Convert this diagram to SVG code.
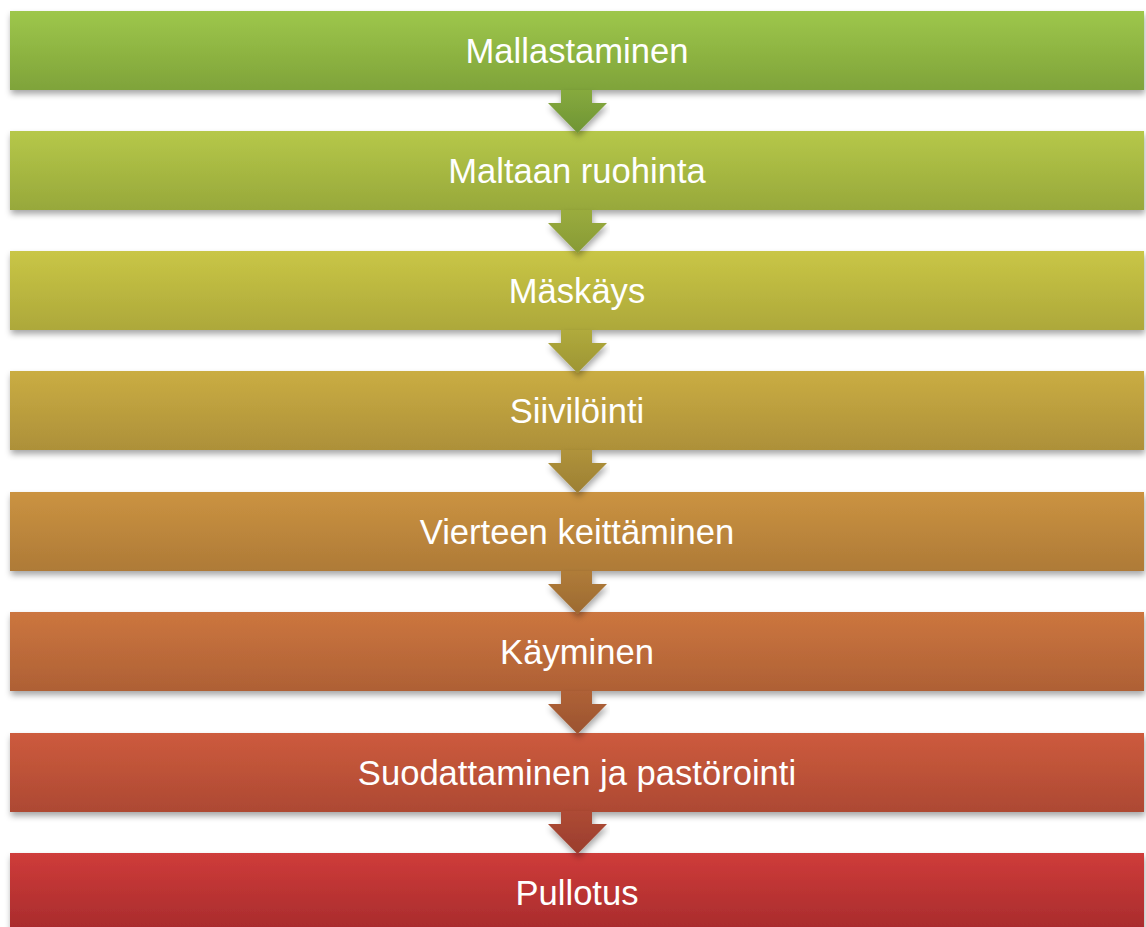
<svg xmlns="http://www.w3.org/2000/svg" width="1146" height="927" viewBox="0 0 1146 927">
<style>
.lbl{font-family:"Liberation Sans",Arial,sans-serif;font-size:34.6px;fill:#ffffff;text-anchor:middle}
</style>
<defs>
<filter id="sh" x="-5%" y="-20%" width="110%" height="160%">
<feDropShadow dx="1" dy="4" stdDeviation="3" flood-color="#000" flood-opacity="0.35"/>
</filter>
<linearGradient id="g1" x1="0" y1="0" x2="0" y2="1"><stop offset="0" stop-color="#9EC74B"/><stop offset="1" stop-color="#7FA33A"/></linearGradient>
<linearGradient id="g2" x1="0" y1="0" x2="0" y2="1"><stop offset="0" stop-color="#B6C849"/><stop offset="1" stop-color="#97A83B"/></linearGradient>
<linearGradient id="g3" x1="0" y1="0" x2="0" y2="1"><stop offset="0" stop-color="#C9C646"/><stop offset="1" stop-color="#ADA83A"/></linearGradient>
<linearGradient id="g4" x1="0" y1="0" x2="0" y2="1"><stop offset="0" stop-color="#CAAD43"/><stop offset="1" stop-color="#AD9039"/></linearGradient>
<linearGradient id="g5" x1="0" y1="0" x2="0" y2="1"><stop offset="0" stop-color="#CB9341"/><stop offset="1" stop-color="#AE7A37"/></linearGradient>
<linearGradient id="g6" x1="0" y1="0" x2="0" y2="1"><stop offset="0" stop-color="#CC763F"/><stop offset="1" stop-color="#AE6035"/></linearGradient>
<linearGradient id="g7" x1="0" y1="0" x2="0" y2="1"><stop offset="0" stop-color="#CD5B3D"/><stop offset="1" stop-color="#AD4933"/></linearGradient>
<linearGradient id="g8" x1="0" y1="0" x2="0" y2="1"><stop offset="0" stop-color="#CF3C3A"/><stop offset="1" stop-color="#A72B2C"/></linearGradient>
<linearGradient id="a1" x1="0" y1="0" x2="0" y2="1"><stop offset="0" stop-color="#86AA3E"/><stop offset="1" stop-color="#6F9434"/></linearGradient>
<linearGradient id="a2" x1="0" y1="0" x2="0" y2="1"><stop offset="0" stop-color="#9AAC3E"/><stop offset="1" stop-color="#879A35"/></linearGradient>
<linearGradient id="a3" x1="0" y1="0" x2="0" y2="1"><stop offset="0" stop-color="#B0AA3C"/><stop offset="1" stop-color="#9D9534"/></linearGradient>
<linearGradient id="a4" x1="0" y1="0" x2="0" y2="1"><stop offset="0" stop-color="#B0933B"/><stop offset="1" stop-color="#9C7F33"/></linearGradient>
<linearGradient id="a5" x1="0" y1="0" x2="0" y2="1"><stop offset="0" stop-color="#B07C39"/><stop offset="1" stop-color="#9C6A31"/></linearGradient>
<linearGradient id="a6" x1="0" y1="0" x2="0" y2="1"><stop offset="0" stop-color="#AF6237"/><stop offset="1" stop-color="#9B532F"/></linearGradient>
<linearGradient id="a7" x1="0" y1="0" x2="0" y2="1"><stop offset="0" stop-color="#AE4B35"/><stop offset="1" stop-color="#9A3D2D"/></linearGradient>
<path id="arr" d="M561,0 H592 V13 H607 L577.5,43 L548,13 H561 Z"/>
</defs>
<rect width="1146" height="927" fill="#ffffff"/>
<g id="n1"><rect x="10" y="11" width="1134" height="79" fill="url(#g1)" filter="url(#sh)"/><text class="lbl" x="577" y="63">Mallastaminen</text></g>
<g id="n2"><rect x="10" y="131" width="1134" height="79" fill="url(#g2)" filter="url(#sh)"/><text class="lbl" x="577" y="183">Maltaan ruohinta</text></g>
<g id="n3"><rect x="10" y="251" width="1134" height="79" fill="url(#g3)" filter="url(#sh)"/><text class="lbl" x="577" y="303">Mäskäys</text></g>
<g id="n4"><rect x="10" y="371" width="1134" height="79" fill="url(#g4)" filter="url(#sh)"/><text class="lbl" x="577" y="423">Siivilöinti</text></g>
<g id="n5"><rect x="10" y="492" width="1134" height="79" fill="url(#g5)" filter="url(#sh)"/><text class="lbl" x="577" y="544">Vierteen keittäminen</text></g>
<g id="n6"><rect x="10" y="612" width="1134" height="79" fill="url(#g6)" filter="url(#sh)"/><text class="lbl" x="577" y="664">Käyminen</text></g>
<g id="n7"><rect x="10" y="733" width="1134" height="79" fill="url(#g7)" filter="url(#sh)"/><text class="lbl" x="577" y="785">Suodattaminen ja pastörointi</text></g>
<g id="n8"><rect x="10" y="853" width="1134" height="79" fill="url(#g8)" filter="url(#sh)"/><text class="lbl" x="577" y="905">Pullotus</text></g>
<g id="connectors" filter="url(#sh)">
<use href="#arr" y="90" fill="url(#a1)"/>
<use href="#arr" y="210" fill="url(#a2)"/>
<use href="#arr" y="330" fill="url(#a3)"/>
<use href="#arr" y="450" fill="url(#a4)"/>
<use href="#arr" y="571" fill="url(#a5)"/>
<use href="#arr" y="691" fill="url(#a6)"/>
<use href="#arr" y="811" fill="url(#a7)"/>
</g>
</svg>
